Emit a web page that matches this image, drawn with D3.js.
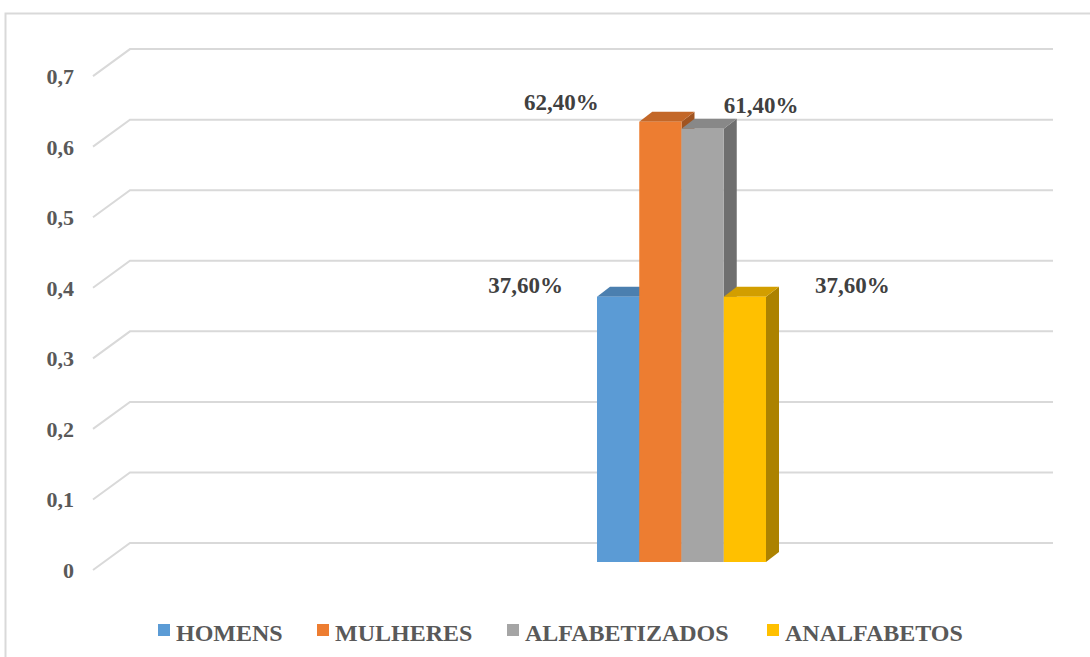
<!DOCTYPE html>
<html><head><meta charset="utf-8">
<script src="https://cdn.jsdelivr.net/npm/d3@7"></script>
<style>html,body{margin:0;padding:0;background:#fff;}svg{display:block;}
text{font-family:"Liberation Serif","Times New Roman",Times,"DejaVu Serif",serif;font-weight:bold;}</style>
</head><body>
<svg id="c" width="1090" height="657"></svg>
<script>
const series = ["HOMENS", "MULHERES", "ALFABETIZADOS", "ANALFABETOS"];
const values = [0.376, 0.624, 0.614, 0.376];
const valueLabels = ["37,60%", "62,40%", "61,40%", "37,60%"];
const colors = ["#5B9BD5", "#ED7D31", "#A5A5A5", "#FFC000"];
const ticks = [0, 0.1, 0.2, 0.3, 0.4, 0.5, 0.6, 0.7];
const tickLabels = ["0", "0,1", "0,2", "0,3", "0,4", "0,5", "0,6", "0,7"];

const svg = d3.select("#c");

// frame
svg.append("rect").attr("x", 5.5).attr("y", 13.5).attr("width", 1100).attr("height", 700)
  .attr("fill", "none").attr("stroke", "#d9d9d9").attr("stroke-width", 2);

const y = d3.scaleLinear().domain([0, 0.7]).range([562, 562 - 0.7 * 705.6]);
const x = d3.scaleBand().domain(series).range([597, 766]).padding(0);

const floorFrontDy = 8, floorBackDy = -19, frontX = 93, backX = 130, rightX = 1053;
const barDx = 13, barDy = -10;

const g = svg.append("g");
ticks.forEach(t => {
  const yf = y(t) + floorFrontDy, yb = y(t) + floorBackDy;
  g.append("path")
    .attr("d", `M${frontX},${yf}L${backX},${yb}L${rightX},${yb}`)
    .attr("fill", "none").attr("stroke", "#d9d9d9").attr("stroke-width", 2);
});

svg.append("g").selectAll("text").data(ticks).join("text")
  .attr("x", 74).attr("y", d => y(d) + floorFrontDy + 8)
  .attr("text-anchor", "end")
  .attr("font-size", 22)
  .attr("fill", "#595959")
  .text((d, i) => tickLabels[i]);

const bars = svg.append("g");
series.forEach((s, i) => {
  const x0 = x(s), w = x.bandwidth(), y0 = y(0), y1 = y(values[i]);
  bars.append("path")
    .attr("d", `M${x0 + w},${y1}L${x0 + w + barDx},${y1 + barDy}L${x0 + w + barDx},${y0 + barDy}L${x0 + w},${y0}Z`)
    .attr("fill", d3.color(colors[i]).darker(1.1));
  bars.append("path")
    .attr("d", `M${x0},${y1}L${x0 + barDx},${y1 + barDy}L${x0 + w + barDx},${y1 + barDy}L${x0 + w},${y1}Z`)
    .attr("fill", d3.color(colors[i]).darker(0.55));
  bars.append("rect").attr("x", x0).attr("y", y1).attr("width", w).attr("height", y0 - y1)
    .attr("fill", colors[i]);
});

const lab = svg.append("g").attr("font-size", 23).attr("fill", "#404040");
const labPos = [
  {dx: -34, dy: -4, anchor: "end", ref: "left"},
  {dx: -78, dy: -12, anchor: "middle", ref: "left"},
  {dx: 0, dy: -16, anchor: "start", ref: "right"},
  {dx: 49, dy: -4, anchor: "start", ref: "right"}
];
series.forEach((s, i) => {
  const p = labPos[i];
  const bx = p.ref === "left" ? x(s) : x(s) + x.bandwidth();
  lab.append("text").attr("x", bx + p.dx).attr("y", y(values[i]) + p.dy)
    .attr("text-anchor", p.anchor).text(valueLabels[i]);
});

const legX = [158, 317, 507, 767];
const leg = svg.append("g");
series.forEach((s, i) => {
  leg.append("rect").attr("x", legX[i]).attr("y", 624).attr("width", 12).attr("height", 12)
    .attr("fill", colors[i]);
  leg.append("text").attr("x", legX[i] + 18).attr("y", 641)
    .attr("font-size", 24)
    .attr("fill", "#595959").text(s);
});
</script>
</body></html>
